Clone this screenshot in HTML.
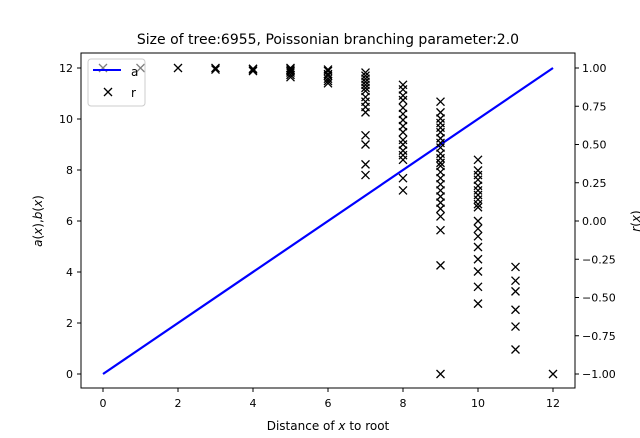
<!DOCTYPE html>
<html><head><meta charset="utf-8"><style>
body{margin:0;background:#fff;}
svg{display:block;font-family:"DejaVu Sans","Liberation Sans",sans-serif;}
</style></head><body>
<svg id="chart" width="640" height="438" viewBox="0 0 640 438">
<rect width="640" height="438" fill="#fff"/>
<text x="328" y="44" font-size="14" text-anchor="middle">Size of tree:6955, Poissonian branching parameter:2.0</text>
<g id="plot"></g>
<rect x="81" y="53" width="494" height="335" fill="none" stroke="#000" stroke-width="1"/>
<g>
<rect x="88" y="59" width="57" height="47" rx="3" fill="#fff" fill-opacity="0.5" stroke="#ccc"/>
<line x1="93" y1="70" x2="121" y2="70" stroke="#0000ff" stroke-width="2"/>
<text x="131" y="76" font-size="12">a</text>
<path d="M104,88 l8,8 M112,88 l-8,8" stroke="#000" stroke-width="1.3"/>
<text x="131" y="97" font-size="12">r</text>
</g>
<text x="328" y="430" font-size="12" text-anchor="middle">Distance of <tspan font-style="italic">x</tspan> to root</text>
<text transform="translate(42,221) rotate(-90)" font-size="12" text-anchor="middle"><tspan font-style="italic">a</tspan>(<tspan font-style="italic">x</tspan>),<tspan font-style="italic">b</tspan>(<tspan font-style="italic">x</tspan>)</text>
<text transform="translate(640,221) rotate(-90)" font-size="12" text-anchor="middle"><tspan font-style="italic">r</tspan>(<tspan font-style="italic">x</tspan>)</text>
</svg>
<script>
const xTicks=[0,2,4,6,8,10,12];
const leftTicks=[0,2,4,6,8,10,12];
const rightTicks=[-1,-0.75,-0.5,-0.25,0,0.25,0.5,0.75,1];
const rightTickLabels=["\u22121.00","\u22120.75","\u22120.50","\u22120.25","0.00","0.25","0.50","0.75","1.00"];
const lineX=[0,12];
const lineA=[0,12];
const rDist=[0,1,2,3,3,4,4,4,5,5,5,5,5,5,6,6,6,6,6,6,6,
7,7,7,7,7,7,7,7,7,7,7,7,7,7,7,
8,8,8,8,8,8,8,8,8,8,8,8,8,8,8,8,
9,9,9,9,9,9,9,9,9,9,9,9,9,9,9,9,9,9,9,9,9,9,9,9,
10,10,10,10,10,10,10,10,10,10,10,10,10,10,10,10,10,10,
11,11,11,11,11,11,12];
const rVal=[1,1,1,1,0.99,0.995,0.99,0.98,1,0.99,0.98,0.97,0.955,0.94,0.99,0.98,0.96,0.95,0.93,0.915,0.9,
0.97,0.95,0.93,0.91,0.89,0.87,0.85,0.81,0.78,0.745,0.71,0.56,0.5,0.37,0.3,
0.89,0.86,0.82,0.79,0.74,0.7,0.66,0.62,0.58,0.53,0.5,0.46,0.43,0.4,0.28,0.2,
0.78,0.71,0.67,0.64,0.61,0.58,0.54,0.51,0.48,0.44,0.41,0.38,0.36,0.32,0.28,0.24,0.2,0.16,0.12,0.08,0.03,-0.06,-0.29,-1,
0.4,0.33,0.3,0.27,0.23,0.2,0.17,0.14,0.11,0.09,0.0,-0.05,-0.1,-0.17,-0.25,-0.33,-0.43,-0.54,
-0.3,-0.39,-0.46,-0.58,-0.69,-0.84,-1];
const NS="http://www.w3.org/2000/svg";
const g=document.getElementById('plot');
const X=v=>103+v*37.5;
const YL=v=>374-v*25.5;
const YR=v=>374-(v+1)*153;
function mk(t,a){const e=document.createElementNS(NS,t);for(const k in a)e.setAttribute(k,a[k]);g.appendChild(e);return e;}
xTicks.forEach(t=>{
 const l=mk('line',{x1:X(t),x2:X(t),y1:388,y2:392,stroke:'#000'});
 
 
 const s=mk('text',{x:X(t),y:407,'font-size':11,'text-anchor':'middle'});s.textContent=t;
 
 
});
leftTicks.forEach(t=>{
 const l=mk('line',{x1:77,x2:81,y1:YL(t),y2:YL(t),stroke:'#000'});
 
 
 const s=mk('text',{x:73,y:YL(t)+4,'font-size':11,'text-anchor':'end'});s.textContent=t;
 
 
});
rightTicks.forEach((t,i)=>{
 const l=mk('line',{x1:575,x2:579,y1:YR(t),y2:YR(t),stroke:'#000'});
 
 
 const s=mk('text',{x:582,y:YR(t)+4,'font-size':11});s.textContent=rightTickLabels[i];
 
 
});
const ln=mk('line',{x1:X(lineX[0]),y1:YL(lineA[0]),x2:X(lineX[1]),y2:YL(lineA[1]),stroke:'#0000ff','stroke-width':2.2});


rDist.forEach((d,i)=>{
 const x=X(d),y=YR(rVal[i]);
 const p=mk('path',{d:`M${x-4},${y-4} l8,8 M${x+4},${y-4} l-8,8`,stroke:'#000','stroke-width':1.3});
 
 
});
</script>
</body></html>
